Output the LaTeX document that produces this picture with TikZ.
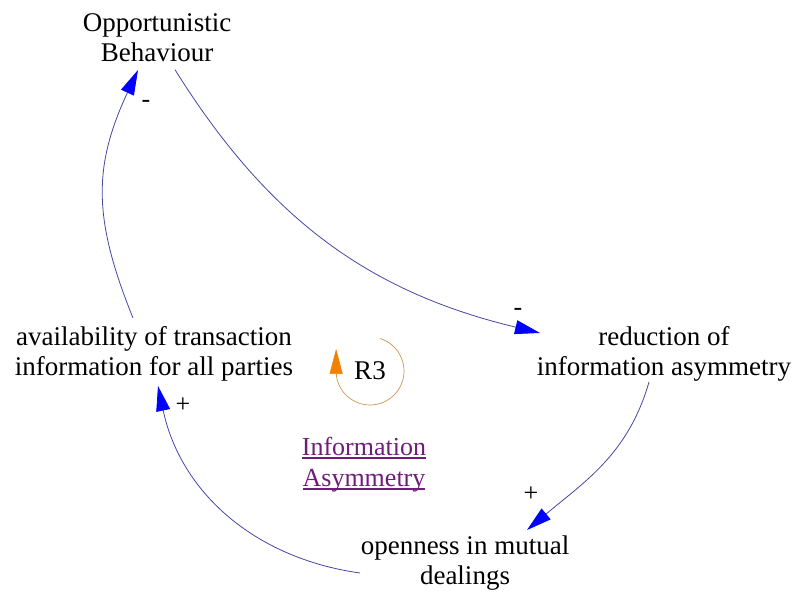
\documentclass[tikz,border=0pt]{standalone}
\usepackage{fontspec}
\setmainfont{Liberation Serif}
\usetikzlibrary{arrows.meta}

\definecolor{linkblue}{RGB}{70,70,165}
\definecolor{tipblue}{RGB}{0,0,255}
\definecolor{loopline}{RGB}{205,150,80}
\definecolor{looptip}{RGB}{240,130,0}
\definecolor{viewlink}{RGB}{110,30,120}

% underline that sits just below the baseline
\newcommand\linkline[1]{\setbox0\hbox{#1}\rlap{\rule[-3.6pt]{\wd0}{1.3pt}}\box0}

\tikzset{
  var/.style={font=\fontsize{27}{30}\selectfont, align=center, inner sep=0pt},
  sign/.style={font=\fontsize{26}{28}\selectfont, inner sep=0pt},
  link/.style={draw=linkblue, line width=0.8pt,
    -{Triangle[length=25pt,width=14pt,color=tipblue]}},
  viewname/.style={font=\fontsize{26}{31}\selectfont, align=center, inner sep=0pt, text=viewlink},
}

\begin{document}
\begin{tikzpicture}[x=1pt,y=1pt]
  \useasboundingbox (0,0) rectangle (798,592);

  % variables
  \node[var] (opp)   at (157,554.3) {Opportunistic\\Behaviour};
  \node[var] (avail) at (154,238)   {availability of transaction\\information for all parties};
  \node[var] (red)   at (664,238)   {reduction of\\information asymmetry};
  \node[var] (open)  at (465,29.3)  {openness in mutual\\dealings};

  % causal links
  \draw[link] ([shift={(18pt,-32pt)}]opp.center) to[out=-58,in=166.5]
              ([shift={(-124pt,21pt)}]red.center);
  \draw[link] ([shift={(-15pt,-28pt)}]red.center) to[out=-106,in=40]
              ([shift={(62pt,32.7pt)}]open.center);
  \draw[link] ([shift={(-105pt,-10.3pt)}]open.center) to[out=172,in=-78]
              ([shift={(4pt,-32pt)}]avail.center);
  \draw[link] ([shift={(-21pt,36pt)}]avail.center) to[out=112,in=-115,looseness=1.1]
              ([shift={(-19pt,-32.3pt)}]opp.center);

  % link polarities
  \node[sign] (s1) at (518,280.5) {-};
  \node[sign] (s2) at (531,98)    {+};
  \node[sign] (s3) at (183,187)   {+};
  \node[sign] (s4) at (146,488.5) {-};

  % loop marker
  \node[var] (loop) at (370,221) {R3};
  \draw[loopline, line width=0.7pt] ([shift={(73:34pt)}]loop.center)
        arc[start angle=73, end angle=-175, radius=34pt] coordinate (loopend);
  \draw[looptip, line width=0.7pt, -{Triangle[length=25pt,width=13pt]}]
        (loopend) -- ++(0,25);

  % view name
  \node[viewname] (view) at (364,127.8) {\linkline{Information}\\\linkline{Asymmetry}};
\end{tikzpicture}
\end{document}
